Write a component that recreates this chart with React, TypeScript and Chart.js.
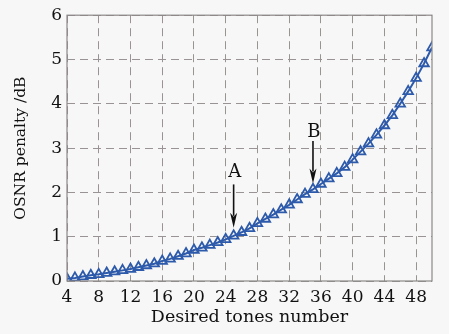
import React, { useEffect, useRef } from "react";
import { Chart, registerables } from "chart.js";

Chart.register(...registerables);

const tones: number[] = [4, 5, 6, 7, 8, 9, 10, 11, 12, 13, 14, 15, 16, 17, 18, 19, 20, 21, 22, 23, 24, 25, 26, 27, 28, 29, 30, 31, 32, 33, 34, 35, 36, 37, 38, 39, 40, 41, 42, 43, 44, 45, 46, 47, 48, 49, 50];
const penalty: number[] = [0.05, 0.07, 0.1, 0.13, 0.15, 0.18, 0.21, 0.24, 0.27, 0.31, 0.35, 0.39, 0.45, 0.5, 0.56, 0.62, 0.7, 0.75, 0.81, 0.87, 0.94, 1.02, 1.1, 1.19, 1.3, 1.4, 1.5, 1.61, 1.72, 1.84, 1.96, 2.07, 2.19, 2.31, 2.43, 2.57, 2.74, 2.92, 3.1, 3.3, 3.51, 3.74, 4.0, 4.28, 4.58, 4.91, 5.27];
const xTicks: number[] = [4, 8, 12, 16, 20, 24, 28, 32, 36, 40, 44, 48];
const yTicks: number[] = [0, 1, 2, 3, 4, 5, 6];
const markerLabels: string[] = ["A", "B"];
const markerX: number[] = [25, 35];
const markerTextY: number[] = [2.45, 3.36];
const markerFromY: number[] = [2.18, 3.16];
const markerToY: number[] = [1.2, 2.2];

const FONT = "'DejaVu Serif', serif";

const annotPlugin = {
  id: "annot",
  afterDatasetsDraw(chart: any) {
    const { ctx, chartArea, scales } = chart;
    const xs = scales.x;
    const ys = scales.y;
    ctx.save();
    ctx.strokeStyle = "#8c8888";
    ctx.lineWidth = 1.2;
    ctx.strokeRect(chartArea.left, chartArea.top, chartArea.right - chartArea.left, chartArea.bottom - chartArea.top);
    for (let i = 0; i < markerLabels.length; i++) {
      const px = xs.getPixelForValue(markerX[i]);
      const ty = ys.getPixelForValue(markerTextY[i]);
      const fy = ys.getPixelForValue(markerFromY[i]);
      const toy = ys.getPixelForValue(markerToY[i]);
      ctx.fillStyle = "#111";
      ctx.font = "18px " + FONT;
      ctx.textAlign = "center";
      ctx.textBaseline = "middle";
      ctx.fillText(markerLabels[i], px + 1, ty);
      ctx.strokeStyle = "#111";
      ctx.lineWidth = 1.6;
      ctx.beginPath();
      ctx.moveTo(px, fy);
      ctx.lineTo(px, toy - 12);
      ctx.stroke();
      ctx.beginPath();
      ctx.moveTo(px, toy);
      ctx.lineTo(px - 3.5, toy - 15);
      ctx.lineTo(px, toy - 11);
      ctx.lineTo(px + 3.5, toy - 15);
      ctx.closePath();
      ctx.fillStyle = "#111";
      ctx.fill();
    }
    ctx.restore();
  },
};

export default function App() {
  const ref = useRef<HTMLCanvasElement | null>(null);
  useEffect(() => {
    document.body.style.margin = "0";
    document.body.style.background = "#f7f7f7";
    const canvas = ref.current!;
    const chart = new Chart(canvas, {
      type: "line",
      data: {
        datasets: [
          {
            data: tones.map((t, i) => ({ x: t, y: penalty[i] })),
            borderColor: "#2d5aab",
            backgroundColor: "rgba(247,247,247,0)",
            borderWidth: 2,
            pointStyle: "triangle",
            pointRadius: 5.5,
            pointBorderWidth: 1.8,
            pointBorderColor: "#2d5aab",
            pointBackgroundColor: "rgba(0,0,0,0)",
            tension: 0,
          },
        ],
      },
      options: {
        animation: false,
        responsive: false,
        devicePixelRatio: 1,
        layout: { padding: { top: 12, right: 17, left: 0, bottom: 0 } },
        plugins: { legend: { display: false }, tooltip: { enabled: false } },
        scales: {
          x: {
            type: "linear",
            min: 4,
            max: 50,
            afterBuildTicks: (s: any) => {
              s.ticks = xTicks.map((v) => ({ value: v }));
            },
            afterFit: (s: any) => {
              s.height = 53;
            },
            ticks: { color: "#111", font: { family: FONT, size: 17 }, padding: 6, maxRotation: 0, autoSkip: false },
            grid: { color: "#9a9393", lineWidth: 1, drawTicks: false },
            border: { display: false, dash: [8, 5] },
            title: { display: true, text: "Desired tones number", color: "#111", font: { family: FONT, size: 17.5 }, padding: { top: 0, bottom: 6 } },
          },
          y: {
            type: "linear",
            min: 0,
            max: 6,
            afterBuildTicks: (s: any) => {
              s.ticks = yTicks.map((v) => ({ value: v }));
            },
            afterFit: (s: any) => {
              s.width = 67;
            },
            ticks: { color: "#111", font: { family: FONT, size: 17 }, padding: 5 },
            grid: { color: "#9a9393", lineWidth: 1, drawTicks: false },
            border: { display: false, dash: [8, 5] },
            title: { display: true, text: "OSNR penalty /dB", color: "#111", font: { family: FONT, size: 15.5 }, padding: { top: 12, bottom: 0 } },
          },
        },
      } as any,
      plugins: [annotPlugin],
    });
    return () => chart.destroy();
  }, []);
  return (
    <div style={{ width: 449, height: 334, background: "#f7f7f7" }}>
      <canvas ref={ref} width={449} height={334} style={{ display: "block" }} />
    </div>
  );
}
